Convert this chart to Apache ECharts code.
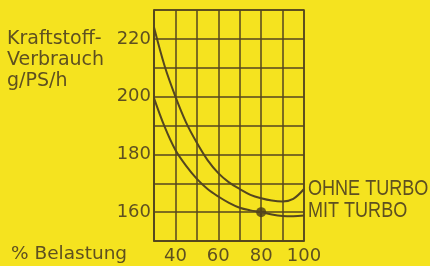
<!DOCTYPE html>
<html>
<head>
<meta charset="utf-8">
<script src="https://cdn.jsdelivr.net/npm/echarts@6/dist/echarts.min.js"></script>
<style>
html,body{margin:0;padding:0;background:#f5e31f;}
#c{width:430px;height:266px;}
</style>
</head>
<body>
<div id="c"></div>
<script>
const loadPct = [30, 35, 40, 45, 50, 55, 60, 65, 70, 75, 80, 85, 90, 95, 100];
const ohneTurbo = [224, 210.5, 200, 191, 184, 178, 173.5, 170.3, 168, 166, 164.8, 164, 163.7, 164.6, 168];
const mitTurbo = [199.5, 189.5, 181.5, 176, 171.5, 168, 165.4, 163.2, 161.5, 160.6, 160, 159.2, 158.7, 158.6, 158.8];
const markerPoint = [[80, 160]];
const xTickLabels = [40, 60, 80, 100];
const yTickLabels = [160, 180, 200, 220];
const seriesNames = ['OHNE TURBO', 'MIT TURBO'];

const ink = '#54461f';
const txt = '#5e5020';
const font = 'DejaVu Sans';

const chart = echarts.init(document.getElementById('c'));
chart.setOption({
  backgroundColor: '#f5e31f',
  animation: false,
  grid: {left: 154, right: 126, top: 10, bottom: 25, show: true, borderColor: ink, borderWidth: 1.5},
  xAxis: {
    type: 'value', min: 30, max: 100, interval: 10,
    axisLine: {show: true, lineStyle: {color: ink, width: 1.5}},
    axisTick: {show: false},
    splitLine: {show: true, lineStyle: {color: ink, width: 1.5}},
    axisLabel: {
      color: txt, fontFamily: font, fontSize: 18, margin: 6,
      formatter: v => xTickLabels.includes(v) ? String(v) : ''
    }
  },
  yAxis: {
    type: 'value', min: 150, max: 230, interval: 10,
    axisLine: {show: true, lineStyle: {color: ink, width: 1.5}},
    axisTick: {show: false},
    splitLine: {show: true, lineStyle: {color: ink, width: 1.5}},
    axisLabel: {
      color: txt, fontFamily: font, fontSize: 18, margin: 3,
      formatter: v => yTickLabels.includes(v) ? String(v) : ''
    }
  },
  series: [
    {name: seriesNames[0], type: 'line', smooth: 0.35, showSymbol: false,
     data: loadPct.map((x, i) => [x, ohneTurbo[i]]),
     lineStyle: {color: ink, width: 2}},
    {name: seriesNames[1], type: 'line', smooth: 0.35, showSymbol: false,
     data: loadPct.map((x, i) => [x, mitTurbo[i]]),
     lineStyle: {color: ink, width: 2}},
    {type: 'scatter', data: markerPoint, symbolSize: 10, itemStyle: {color: '#4a3b18'}}
  ],
  graphic: [
    {type: 'text', x: 7, y: 29, style: {text: 'Kraftstoff-\nVerbrauch\ng/PS/h', fill: txt, font: '19px "DejaVu Sans"', lineHeight: 21}},
    {type: 'text', x: 11, y: 245, style: {text: '% Belastung', fill: txt, font: '18.5px "DejaVu Sans"'}},
    {type: 'text', x: 308, y: 178, scaleX: 0.82, style: {text: seriesNames[0], fill: txt, font: '22px "Liberation Sans", Arial, sans-serif'}},
    {type: 'text', x: 308, y: 200, scaleX: 0.82, style: {text: seriesNames[1], fill: txt, font: '22px "Liberation Sans", Arial, sans-serif'}}
  ]
});
</script>
</body>
</html>
